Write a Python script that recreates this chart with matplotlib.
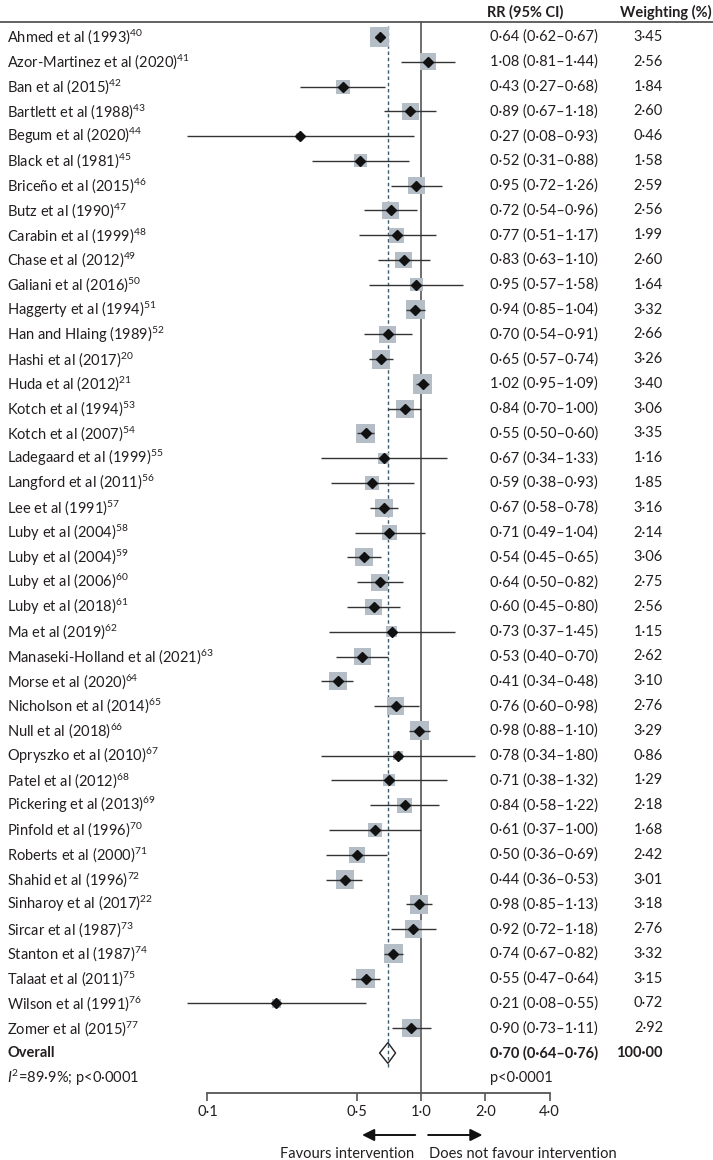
import numpy as np
import matplotlib
matplotlib.use("Agg")
import matplotlib.pyplot as plt
from matplotlib.transforms import blended_transform_factory
from matplotlib.patches import Polygon

plt.rcParams['font.family'] = ['Lato', 'DejaVu Sans']
plt.rcParams['mathtext.fontset'] = 'custom'
plt.rcParams['mathtext.rm'] = 'Lato'
plt.rcParams['mathtext.it'] = 'Lato:italic'
plt.rcParams['mathtext.bf'] = 'Lato:bold'

studies = ["Ahmed et al (1993)", "Azor-Martinez et al (2020)", "Ban et al (2015)",
           "Bartlett et al (1988)", "Begum et al (2020)", "Black et al (1981)",
           "Briceño et al (2015)", "Butz et al (1990)", "Carabin et al (1999)",
           "Chase et al (2012)", "Galiani et al (2016)", "Haggerty et al (1994)",
           "Han and Hlaing (1989)", "Hashi et al (2017)", "Huda et al (2012)",
           "Kotch et al (1994)", "Kotch et al (2007)", "Ladegaard et al (1999)",
           "Langford et al (2011)", "Lee et al (1991)", "Luby et al (2004)",
           "Luby et al (2004)", "Luby et al (2006)", "Luby et al (2018)",
           "Ma et al (2019)", "Manaseki-Holland et al (2021)", "Morse et al (2020)",
           "Nicholson et al (2014)", "Null et al (2018)", "Opryszko et al (2010)",
           "Patel et al (2012)", "Pickering et al (2013)", "Pinfold et al (1996)",
           "Roberts et al (2000)", "Shahid et al (1996)", "Sinharoy et al (2017)",
           "Sircar et al (1987)", "Stanton et al (1987)", "Talaat et al (2011)",
           "Wilson et al (1991)", "Zomer et al (2015)"]
refs = ["40", "41", "42", "43", "44", "45", "46", "47", "48", "49", "50", "51", "52",
        "20", "21", "53", "54", "55", "56", "57", "58", "59", "60", "61", "62", "63",
        "64", "65", "66", "67", "68", "69", "70", "71", "72", "22", "73", "74", "75",
        "76", "77"]
rr = [0.64, 1.08, 0.43, 0.89, 0.27, 0.52, 0.95, 0.72, 0.77, 0.83, 0.95, 0.94, 0.70,
      0.65, 1.02, 0.84, 0.55, 0.67, 0.59, 0.67, 0.71, 0.54, 0.64, 0.60, 0.73, 0.53,
      0.41, 0.76, 0.98, 0.78, 0.71, 0.84, 0.61, 0.50, 0.44, 0.98, 0.92, 0.74, 0.55,
      0.21, 0.90]
lo = [0.62, 0.81, 0.27, 0.67, 0.08, 0.31, 0.72, 0.54, 0.51, 0.63, 0.57, 0.85, 0.54,
      0.57, 0.95, 0.70, 0.50, 0.34, 0.38, 0.58, 0.49, 0.45, 0.50, 0.45, 0.37, 0.40,
      0.34, 0.60, 0.88, 0.34, 0.38, 0.58, 0.37, 0.36, 0.36, 0.85, 0.72, 0.67, 0.47,
      0.08, 0.73]
hi = [0.67, 1.44, 0.68, 1.18, 0.93, 0.88, 1.26, 0.96, 1.17, 1.10, 1.58, 1.04, 0.91,
      0.74, 1.09, 1.00, 0.60, 1.33, 0.93, 0.78, 1.04, 0.65, 0.82, 0.80, 1.45, 0.70,
      0.48, 0.98, 1.10, 1.80, 1.32, 1.22, 1.00, 0.69, 0.53, 1.13, 1.18, 0.82, 0.64,
      0.55, 1.11]
weights = [3.45, 2.56, 1.84, 2.60, 0.46, 1.58, 2.59, 2.56, 1.99, 2.60, 1.64, 3.32, 2.66,
           3.26, 3.40, 3.06, 3.35, 1.16, 1.85, 3.16, 2.14, 3.06, 2.75, 2.56, 1.15, 2.62,
           3.10, 2.76, 3.29, 0.86, 1.29, 2.18, 1.68, 2.42, 3.01, 3.18, 2.76, 3.32, 3.15,
           0.72, 2.92]
overall_rr, overall_lo, overall_hi, overall_w = 0.70, 0.64, 0.76, 100.00
xticks = [0.1, 0.5, 1.0, 2.0, 4.0]
xticklabels = ["0·1", "0·5", "1·0", "2·0", "4·0"]


def fmt(v):
    return f"{v:.2f}".replace(".", "·")


W, H = 713, 1160
fig = plt.figure(figsize=(W / 100, H / 100), dpi=100)

# pixel geometry
row0_px, row_step = 37.0, 24.78
axis_px, top_px = 1093.0, 22.0
x01_px, x4_px = 207.5, 549.5


def px2row(p):
    return (p - row0_px) / row_step


ax = fig.add_axes([x01_px / W, (H - axis_px) / H, (x4_px - x01_px) / W, (axis_px - top_px) / H])
ax.set_xscale('log')
ax.set_xlim(0.1, 4.0)
ax.set_ylim(px2row(axis_px), px2row(top_px))
for s in ['left', 'right', 'top']:
    ax.spines[s].set_visible(False)
ax.spines['bottom'].set_color('#555555')
ax.spines['bottom'].set_linewidth(1.3)
ax.set_yticks([])
ax.set_xticks(xticks)
ax.set_xticklabels(xticklabels)
ax.xaxis.set_minor_locator(matplotlib.ticker.NullLocator())
ax.tick_params(axis='x', direction='out', length=6, width=1.2, color='#555555',
               labelsize=10.5, pad=3, labelcolor='#231f20')
ax.patch.set_alpha(0)

n = len(studies)
ys = np.arange(n)
txt = '#231f20'

# reference lines
ax.plot([1.0, 1.0], [px2row(top_px), px2row(axis_px)], color='#555555', lw=1.2, clip_on=False, zorder=1)
ax.plot([overall_rr, overall_rr], [px2row(26), 41.6], color='#3d5a6c', lw=1.0,
        ls=(0, (2.5, 2.0)), clip_on=False, zorder=1)

# squares
side_px = 10.4 * np.sqrt(np.array(weights))
sizes = (side_px * 72 / 100) ** 2
ax.scatter(rr, ys, s=sizes, marker='s', color='#b5bec7', linewidths=0, zorder=2, clip_on=False)
# CI lines
ax.hlines(ys, lo, hi, color='#333333', lw=1.0, zorder=3, clip_on=False)
# diamonds
ax.plot(rr, ys, ls='none', marker='D', ms=4.6, color='#111111', zorder=4, clip_on=False)

# overall diamond
yo = 41
dh = 0.42
poly = Polygon([[overall_lo, yo], [overall_rr, yo - dh], [overall_hi, yo], [overall_rr, yo + dh]],
               closed=True, facecolor='white', edgecolor='#231f20', lw=1.0, zorder=3, clip_on=False)
ax.add_patch(poly)
ax.plot([overall_rr, overall_rr], [yo - dh + 0.05, yo + dh - 0.05], color='#3d5a6c', lw=1.0,
        ls=(0, (2.5, 2.0)), zorder=4, clip_on=False)

# text columns
tr = blended_transform_factory(fig.transFigure, ax.transData)
fs = 10.5
name_x = 7 / W
rr_x = 490 / W
w_x = 663 / W

ax.text(rr_x - 3 / W, -1.0, "RR (95% CI)", transform=tr, ha='left', va='center',
        fontsize=fs, fontweight='bold', color=txt)
ax.text(712 / W, -1.0, "Weighting (%)", transform=tr, ha='right', va='center',
        fontsize=fs, fontweight='bold', color=txt)
ax.plot([0, 1], [px2row(top_px), px2row(top_px)], transform=tr, color='#555555', lw=1.3, clip_on=False)

for i in range(n):
    ax.text(name_x, i, f"{studies[i]}$^{{{refs[i]}}}$", transform=tr, ha='left', va='center',
            fontsize=fs, color=txt)
    ax.text(rr_x, i, f"{fmt(rr[i])} ({fmt(lo[i])}–{fmt(hi[i])})", transform=tr,
            ha='left', va='center', fontsize=fs, color=txt)
    ax.text(w_x, i, fmt(weights[i]), transform=tr, ha='right', va='center', fontsize=fs, color=txt)

ax.text(name_x, yo, "Overall", transform=tr, ha='left', va='center', fontsize=fs,
        fontweight='bold', color=txt)
ax.text(rr_x, yo, f"{fmt(overall_rr)} ({fmt(overall_lo)}–{fmt(overall_hi)})", transform=tr,
        ha='left', va='center', fontsize=fs, fontweight='bold', color=txt)
ax.text(w_x, yo, fmt(overall_w), transform=tr, ha='right', va='center', fontsize=fs,
        fontweight='bold', color=txt)
ax.text(name_x, 42, "$I^2$=89·9%; p<0·0001", transform=tr, ha='left', va='center',
        fontsize=fs, color=txt)
ax.text(rr_x, 42, "p<0·0001", transform=tr, ha='left', va='center', fontsize=fs, color=txt)

# arrows
ya = px2row(1135)
ax.annotate("", xy=(0.53, ya), xytext=(0.94, ya), xycoords='data', textcoords='data',
            arrowprops=dict(arrowstyle='-|>', mutation_scale=18, color='#111111', lw=1.4,
                            shrinkA=0, shrinkB=0), annotation_clip=False)
ax.annotate("", xy=(1.94, ya), xytext=(1.08, ya), xycoords='data', textcoords='data',
            arrowprops=dict(arrowstyle='-|>', mutation_scale=18, color='#111111', lw=1.4,
                            shrinkA=0, shrinkB=0), annotation_clip=False)
yt = px2row(1154)
ax.text(0.925, yt, "Favours intervention", ha='right', va='center', fontsize=fs, color=txt,
        clip_on=False)
ax.text(1.085, yt, "Does not favour intervention", ha='left', va='center', fontsize=fs,
        color=txt, clip_on=False)

fig.savefig("out.png", dpi=100)
